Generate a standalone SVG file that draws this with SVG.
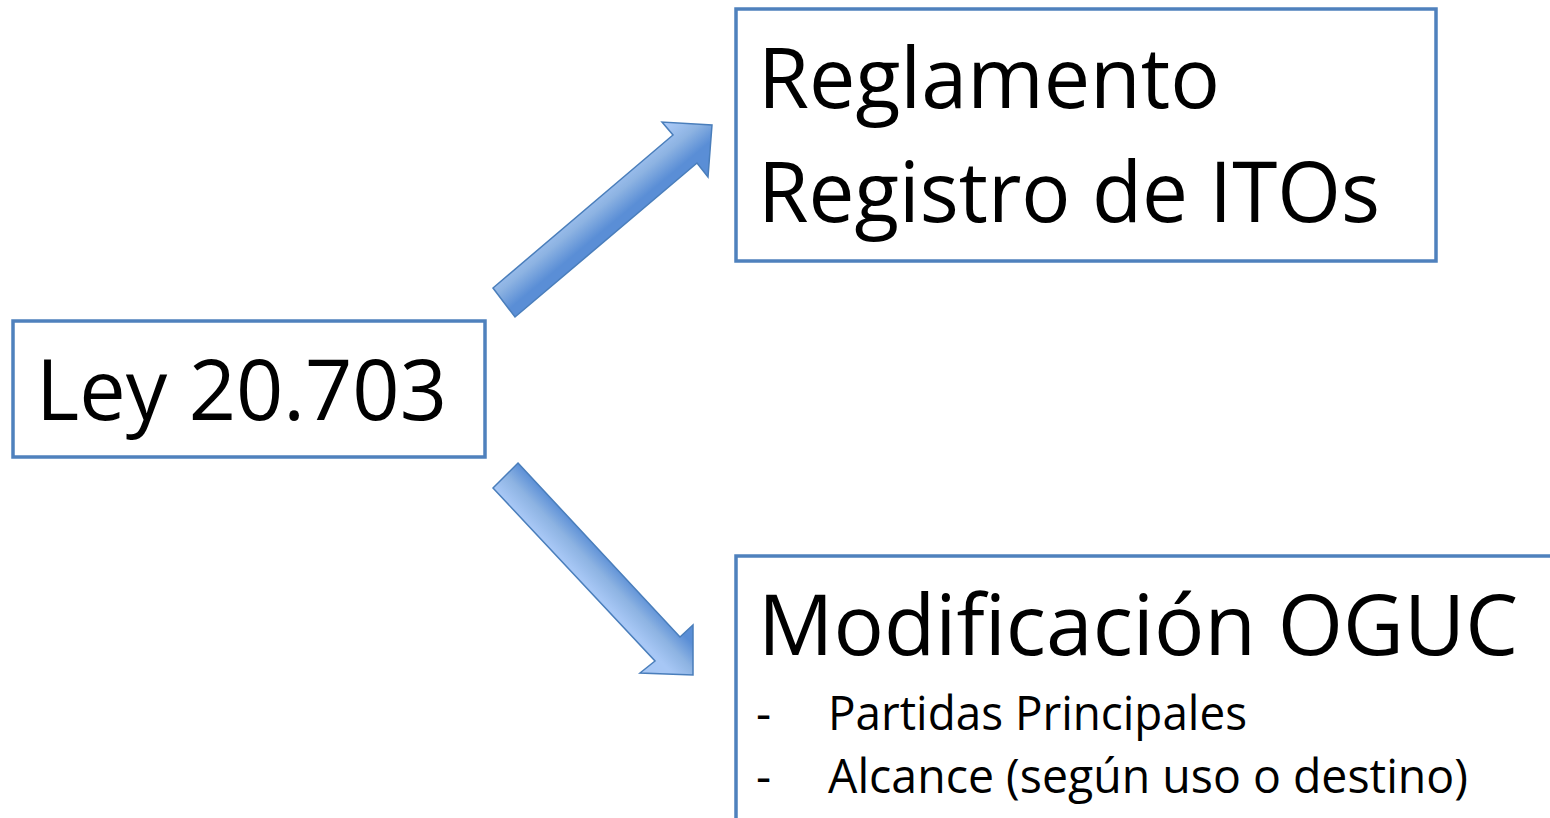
<svg xmlns="http://www.w3.org/2000/svg" width="1550" height="818" viewBox="0 0 1550 818">
  <style>
    .box { fill: #FFFFFF; stroke: #4F81BD; stroke-width: 3.5; }
    .t { font-family: "Open Sans", "Liberation Sans", sans-serif; fill: #000000; }
    .big { font-size: 84px; }
    .small { font-size: 47px; }
    .arrow { stroke: #4A7EBB; stroke-width: 1.5; stroke-linejoin: miter; }
  </style>
  <defs>
    <linearGradient id="gUp" gradientUnits="userSpaceOnUse" x1="585" y1="195" x2="610" y2="225">
      <stop offset="0" stop-color="#A7C7F5"/>
      <stop offset="0.5" stop-color="#8DB3E2"/>
      <stop offset="1" stop-color="#5A8ED6"/>
    </linearGradient>
    <linearGradient id="gDown" gradientUnits="userSpaceOnUse" x1="585" y1="582" x2="610" y2="558">
      <stop offset="0" stop-color="#A7C7F5"/>
      <stop offset="0.5" stop-color="#8DB3E2"/>
      <stop offset="1" stop-color="#5A8ED6"/>
    </linearGradient>
  </defs>

  <g id="connectors">
    <polygon class="arrow" fill="url(#gUp)" points="493,288 673,135 662,122 712,125 708,177 697,163 515,317"/>
    <polygon class="arrow" fill="url(#gDown)" points="518,463 680,637 693,625 693,675 640,673 655,661 493,488"/>
  </g>

  <g id="node-ley">
    <rect class="box" x="13" y="321" width="472" height="136"/>
    <text class="t big" x="36" y="420" textLength="411" lengthAdjust="spacingAndGlyphs">Ley 20.703</text>
  </g>

  <g id="node-reglamento">
    <rect class="box" x="736" y="9" width="700" height="252"/>
    <text class="t big" x="758" y="108" textLength="462" lengthAdjust="spacingAndGlyphs">Reglamento</text>
    <text class="t big" x="758" y="222" textLength="622" lengthAdjust="spacingAndGlyphs">Registro de ITOs</text>
  </g>

  <g id="node-oguc">
    <rect class="box" x="736" y="556" width="900" height="300"/>
    <text class="t big" x="758" y="655" textLength="760" lengthAdjust="spacingAndGlyphs">Modificación OGUC</text>
    <text class="t small" x="756" y="730">-</text>
    <text class="t small" x="828" y="730" textLength="419" lengthAdjust="spacingAndGlyphs">Partidas Principales</text>
    <text class="t small" x="756" y="793">-</text>
    <text class="t small" x="828" y="793" textLength="640" lengthAdjust="spacingAndGlyphs">Alcance (según uso o destino)</text>
  </g>
</svg>
